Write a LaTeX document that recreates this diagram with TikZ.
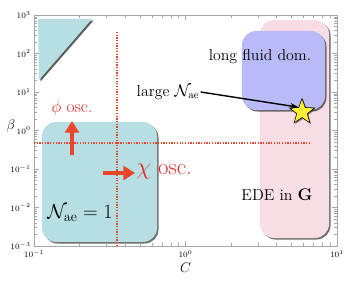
\documentclass[tikz,border=0pt]{standalone}
\usepackage{amsmath}
\usepackage{amssymb}
\usepackage{xcolor}
\usepackage{tikz}
\usetikzlibrary{shapes.geometric, arrows.meta, positioning, shadows}

\definecolor{tealbox}{HTML}{B7DFE3}
\definecolor{pinkbox}{HTML}{F9DDE5}
\definecolor{lavbox}{HTML}{B9BAF8}
\definecolor{oscred}{HTML}{E8452A}
\definecolor{osctext}{HTML}{E52A2A}
\definecolor{staryellow}{HTML}{FFEE33}

\begin{document}
\begin{tikzpicture}[x=0.03cm, y=-0.03cm,
  region/.style={rounded corners=12pt, drop shadow={shadow xshift=1.3pt, shadow yshift=-1.3pt, fill=black!80, opacity=0.7}},
  tick/.style={gray!70, line width=0.4pt},
  ticklabel/.style={font=\fontsize{7.5}{9}\selectfont, inner sep=1pt},
  txt/.style={font=\fontsize{13.5}{16}\selectfont, inner sep=1pt},
  osclabel/.style={text=osctext, inner sep=1pt},
  oscline/.style={oscred, line width=1.1pt, dash pattern=on 1.1pt off 1.2pt},
  oscarrow/.style={oscred, line width=3.3pt, -{Triangle[length=10pt 0, width=12pt 0]}},
  arrow/.style={-{Stealth[length=7pt, width=5pt]}, line width=1.2pt}
]
\useasboundingbox (0,0) rectangle (351,285);

% REGIONS
\path[fill=tealbox, drop shadow={shadow xshift=1.3pt, shadow yshift=-1.3pt, fill=black!80, opacity=0.8}]
  (38,19) -- (92,19) -- (39,80) -- cycle;
\node[region, fill=tealbox, minimum width=3.45cm, minimum height=3.6cm] (naebox) at (99.5,182) {};
\node[region, fill=pinkbox, minimum width=2.07cm, minimum height=6.54cm] (edebox) at (294.5,129) {};
\node[region, fill=lavbox, minimum width=2.49cm, minimum height=2.37cm] (fluidbox) at (283.5,70.5) {};

% FRAME AND TICKS
\draw[gray!70, line width=0.6pt] (34,15) rectangle (337,246);
\foreach \d in {0,1}{
  \draw[tick] ({34+151.5*\d},246) -- ++(0,-5);
  \draw[tick] ({34+151.5*\d},15) -- ++(0,5);
  \foreach \k in {2,...,9}{
    \draw[tick] ({34+151.5*(\d+log10(\k))},246) -- ++(0,-3);
    \draw[tick] ({34+151.5*(\d+log10(\k))},15) -- ++(0,3);
  }
}
\foreach \d in {0,...,5}{
  \draw[tick] (34,{246-38.5*\d}) -- ++(5,0);
  \draw[tick] (337,{246-38.5*\d}) -- ++(-5,0);
  \foreach \k in {2,...,9}{
    \draw[tick] (34,{246-38.5*(\d+log10(\k))}) -- ++(3,0);
    \draw[tick] (337,{246-38.5*(\d+log10(\k))}) -- ++(-3,0);
  }
}
\foreach \e/\y in {3/15, 2/53.5, 1/92, 0/130.5, -1/169, -2/207.5, -3/246}
  \node[ticklabel, anchor=east] (ylab\e) at (32,\y) {$10^{\e}$};
\foreach \e/\x in {-1/34, 0/185.5, 1/337}
  \node[ticklabel, anchor=north] (xlab\e) at (\x,249) {$10^{\e}$};
\node[font=\fontsize{12}{14}\selectfont] (clab) at (185.5,268) {$C$};
\node[font=\fontsize{12}{14}\selectfont] (betalab) at (11,126) {$\beta$};

% OSCILLATION THRESHOLDS
\coordinate (vtop) at (117,32);
\coordinate (vbot) at (117,246);
\coordinate (hleft) at (34,143);
\coordinate (hright) at (310,143);
\draw[oscline] (vtop) -- (vbot);
\draw[oscline] (hleft) -- (hright);

\node[osclabel, font=\fontsize{15}{18}\selectfont] (phi) at (72,108) {$\phi$ osc.};
\coordinate (phitail) at (72,155);
\coordinate (phitip) at (72,121);
\draw[oscarrow] (phitail) -- (phitip);

\node[osclabel, font=\fontsize{19.5}{23}\selectfont, anchor=west] (chi) at (135,172) {$\chi$ osc.};
\coordinate (chitail) at (103,173);
\draw[oscarrow] (chitail) -- (chi.west |- chitail);

% LABELS
\node[txt, font=\fontsize{18.5}{22}\selectfont] (naelabel) at (80,213) {$\mathcal{N}_{\rm ae}=1$};
\node[txt] (edelabel) at (277,195) {EDE in $\mathbf{G}$};
\node[txt] (fluidlabel) at (260,57) {long fluid dom.};
\node[txt] (large) at (168,92) {large $\mathcal{N}_{\rm ae}$};

% STAR
\node[star, star points=5, star point ratio=2.4, minimum size=0.8cm, inner sep=0pt,
  fill=staryellow, draw=black, line width=0.5pt,
  drop shadow={shadow xshift=1pt, shadow yshift=-1pt, fill=black!80, opacity=0.6}] (star) at (302,112) {};
\draw[arrow] (large.east) -- (star.inner point 1);

\end{tikzpicture}
\end{document}
